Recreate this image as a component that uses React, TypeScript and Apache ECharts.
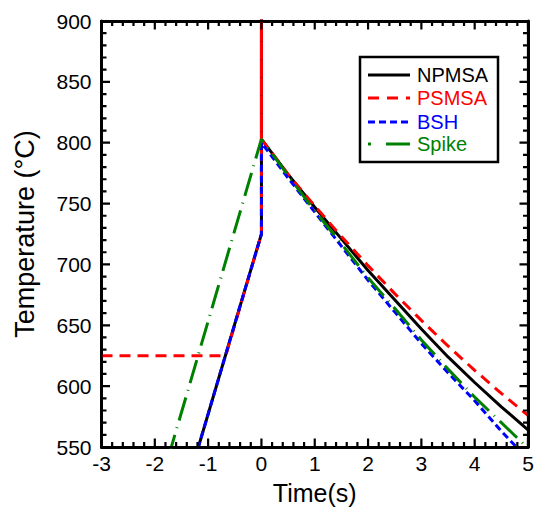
import React, { useEffect, useRef } from "react";
import * as echarts from "echarts";

const FONT = "'Liberation Sans', Arial, Helvetica, sans-serif";

// NPMSA (black, solid)
const npmsaTime = [-1.25, -0.67, 0, 0, 0, 0.5, 1, 1.5, 2, 2.5, 3, 3.5, 4, 4.5, 5];
const npmsaTemp = [540, 626, 725, 905, 803, 774, 747, 721, 695, 671, 647, 624, 603, 583, 564];

// PSMSA (red, dashed)
const psmsaTime = [-3, -0.67, 0, 0, 0, 0.5, 1, 1.5, 2, 2.5, 3, 3.5, 4, 4.5, 5];
const psmsaTemp = [625, 625, 725, 905, 803, 774, 748, 723, 699, 676, 654, 633, 613, 594, 576];

// BSH (blue, short dash)
const bshTime = [-1.25, -0.67, 0, 0, 0.5, 1, 1.5, 2, 2.5, 3, 3.5, 4, 4.5, 5];
const bshTemp = [540, 626, 725, 800, 771, 743, 715, 687, 661, 635, 611, 588, 563, 540];

// Spike (green, dash-dot)
const spikeTime = [-1.75, 0, 0.5, 1, 1.5, 2, 2.5, 3, 3.5, 4, 4.5, 5];
const spikeTemp = [541, 803, 773, 744, 717, 689, 664, 638, 614, 591, 570, 549];

const seriesNames = ["NPMSA", "PSMSA", "BSH", "Spike"];
const seriesColors = ["#000000", "#ff0000", "#0000ff", "#008000"];
const seriesDashes: any[] = [null, [11, 7], [7, 4], [24, 7, 1, 7]];
const legendDashes: any[] = [null, [11, 8], [7, 4], [3, 15, 24, 15]];
const legendDashOffsets = [0, 19, 0, 0];

const xTicks = { min: -3, max: 5, interval: 1 };
const yTicks = { min: 550, max: 900, interval: 50 };
const minorPerMajor = 5;

const W = 534, H = 509;
const GRID = { left: 101.5, right: 6, top: 21, bottom: 62 };

function zip(t: number[], v: number[]) {
  return t.map((x, i) => [x, v[i]]);
}

function tickValues(a: { min: number; max: number; interval: number }) {
  const out: { v: number; major: boolean }[] = [];
  const n = Math.round((a.max - a.min) / a.interval) * minorPerMajor;
  for (let k = 0; k <= n; k++) {
    out.push({ v: a.min + (k * a.interval) / minorPerMajor, major: k % minorPerMajor === 0 });
  }
  return out;
}

function axisParts() {
  return {
    axisLine: { show: true, onZero: false, lineStyle: { color: "#000", width: 3 } },
    axisTick: { show: false },
    minorTick: { show: false },
    splitLine: { show: false },
    minorSplitLine: { show: false },
  };
}

export default function App() {
  const ref = useRef<HTMLDivElement>(null);
  useEffect(() => {
    if (!ref.current) return;
    const chart = echarts.init(ref.current, null, { renderer: "svg" });
    const datas = [
      zip(npmsaTime, npmsaTemp),
      zip(psmsaTime, psmsaTemp),
      zip(bshTime, bshTemp),
      zip(spikeTime, spikeTemp),
    ];

    // ticks: one comb-shaped polyline per side (inside ticks)
    const left = GRID.left, right = W - GRID.right, top = GRID.top, bottom = H - GRID.bottom;
    const sx = (v: number) => left + ((v - xTicks.min) / (xTicks.max - xTicks.min)) * (right - left);
    const sy = (v: number) => bottom - ((v - yTicks.min) / (yTicks.max - yTicks.min)) * (bottom - top);
    const majorLen = 8.5, minorLen = 5;
    const bottomPts: number[][] = [], topPts: number[][] = [], leftPts: number[][] = [], rightPts: number[][] = [];
    tickValues(xTicks).forEach(({ v, major }) => {
      const px = sx(v);
      const len = major ? majorLen : minorLen;
      bottomPts.push([px, bottom], [px, bottom - len], [px, bottom]);
      topPts.push([px, top], [px, top + len], [px, top]);
    });
    tickValues(yTicks).forEach(({ v, major }) => {
      const py = sy(v);
      const len = major ? majorLen : minorLen;
      leftPts.push([left, py], [left + len, py], [left, py]);
      rightPts.push([right, py], [right - len, py], [right, py]);
    });
    const g: any[] = [bottomPts, topPts, leftPts, rightPts].map((pts) => ({
      type: "polyline",
      shape: { points: pts },
      style: { stroke: "#000", lineWidth: 2.2, fill: null, lineJoin: "miter" },
      z: 50,
    }));

    const legendX = 360, legendY = 57, legendW = 138, legendH = 105;
    const rowY = [18, 41, 65, 87];
    g.push({
      type: "rect",
      shape: { x: legendX, y: legendY, width: legendW, height: legendH },
      style: { fill: "#fff", stroke: "#000", lineWidth: 2.5 },
      z: 100,
    });
    seriesNames.forEach((n, i) => {
      g.push({
        type: "line",
        shape: { x1: legendX + 8, y1: legendY + rowY[i], x2: legendX + 50, y2: legendY + rowY[i] },
        style: {
          stroke: seriesColors[i],
          lineWidth: 3,
          lineDash: legendDashes[i] || null,
          lineDashOffset: legendDashOffsets[i],
        },
        z: 101,
      });
      g.push({
        type: "text",
        x: legendX + 57,
        y: legendY + rowY[i],
        style: { text: n, fill: seriesColors[i], font: `20px ${FONT}`, verticalAlign: "middle" },
        z: 101,
      });
    });

    chart.setOption({
      animation: false,
      backgroundColor: "#fff",
      textStyle: { fontFamily: FONT },
      grid: { ...GRID, containLabel: false, outerBoundsMode: "none" },
      xAxis: [
        {
          type: "value",
          position: "bottom",
          ...xTicks,
          ...axisParts(),
          axisLabel: { show: true, color: "#000", fontSize: 21, margin: 6, fontFamily: FONT },
          name: "Time(s)",
          nameLocation: "middle",
          nameGap: 33,
          nameTextStyle: { color: "#000", fontSize: 25, fontFamily: FONT },
        },
        { type: "value", position: "top", ...xTicks, ...axisParts(), axisLabel: { show: false } },
      ],
      yAxis: [
        {
          type: "value",
          position: "left",
          ...yTicks,
          ...axisParts(),
          axisLabel: { show: true, color: "#000", fontSize: 21, margin: 10, fontFamily: FONT },
          name: "Temperature (°C)",
          nameLocation: "middle",
          nameGap: 63,
          nameTextStyle: { color: "#000", fontSize: 27, fontFamily: FONT },
        },
        { type: "value", position: "right", ...yTicks, ...axisParts(), axisLabel: { show: false } },
      ],
      graphic: g,
      series: seriesNames.map((n, i) => ({
        name: n,
        type: "line",
        data: datas[i],
        symbol: "none",
        showSymbol: false,
        clip: true,
        color: seriesColors[i],
        lineStyle: { color: seriesColors[i], width: 3, type: seriesDashes[i] || "solid" },
        z: 2 + i,
      })),
    });
    return () => chart.dispose();
  }, []);
  return (
    <div
      ref={ref}
      style={{ position: "fixed", left: 0, top: 0, width: W, height: H, background: "#fff" }}
    />
  );
}
